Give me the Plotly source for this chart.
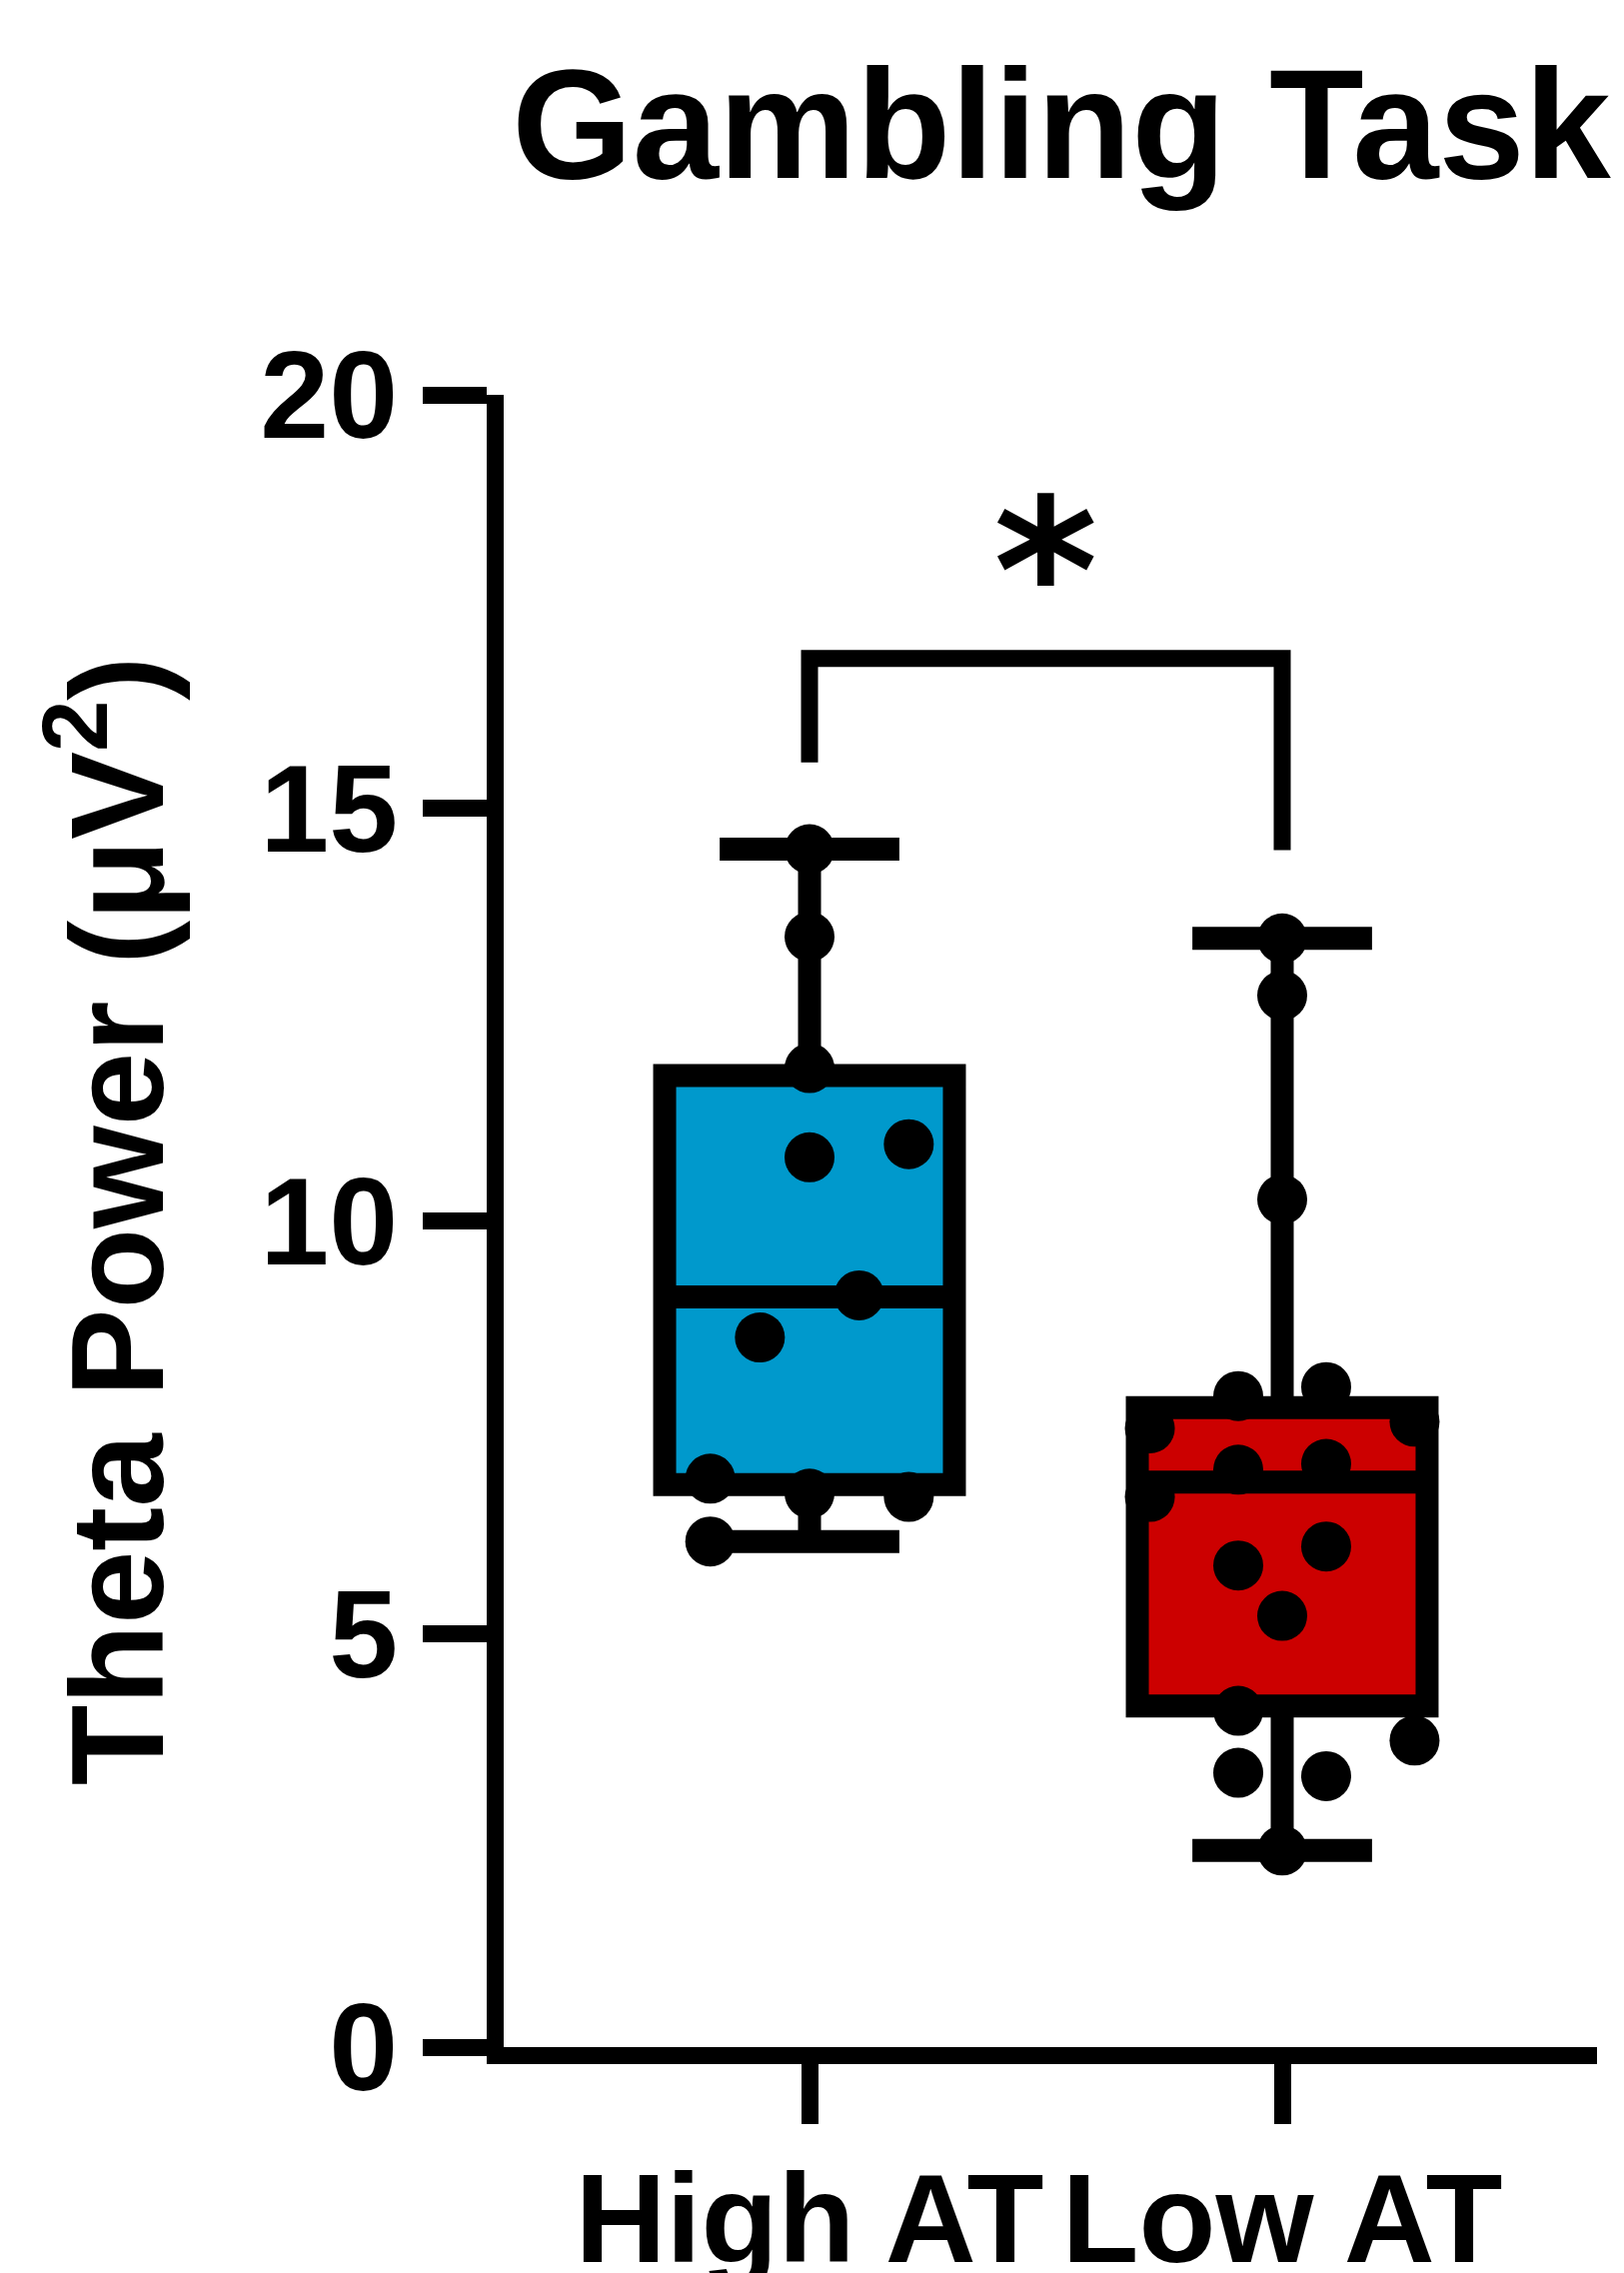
import plotly.graph_objects as go

# ---------------- data ----------------
categories = ["High AT", "Low AT"]

high_values = [14.50, 13.44, 11.85, 10.77, 10.93, 9.10, 8.59, 6.88, 6.70, 6.66, 6.12]
high_jitter = [0.0, 0.0, 0.0, 0.0, 0.21, 0.105, -0.105, -0.21, 0.0, 0.21, -0.21]

low_values = [13.42, 12.73, 10.26, 7.88, 7.99, 7.49, 7.57, 6.99, 7.06, 6.66,
              5.83, 6.06, 5.22, 4.07, 3.71, 3.32, 3.28, 2.38]
low_jitter = [0.0, 0.0, 0.0, -0.093, 0.093, -0.28, 0.28, -0.093, 0.093, -0.28,
              -0.093, 0.093, 0.0, -0.093, 0.28, -0.093, 0.093, 0.0]

# box statistics
box_q1 = [6.81, 4.13]
box_median = [9.08, 6.84]
box_q3 = [11.76, 7.74]
box_lowerfence = [6.12, 2.38]
box_upperfence = [14.50, 13.42]
box_colors = ["#0099CC", "#CC0000"]

# significance bracket
bracket_height = 16.81
bracket_left_end = 15.55
bracket_right_end = 14.49
bracket_label = "*"
asterisk_y = 17.85

y_ticks = [0, 5, 10, 15, 20]

FONT = "Liberation Sans, Arial, Helvetica, sans-serif"

# page body has an 8px margin, so the figure is 8px smaller than the window
W, H = 1617, 2266

fig = go.Figure()

for i, cat in enumerate(categories):
    fig.add_trace(go.Box(
        x=[i], q1=[box_q1[i]], median=[box_median[i]], q3=[box_q3[i]],
        lowerfence=[box_lowerfence[i]], upperfence=[box_upperfence[i]],
        width=0.613, whiskerwidth=0.62,
        fillcolor=box_colors[i],
        line=dict(color="black", width=23),
        boxpoints=False, name=cat, showlegend=False, hoverinfo="skip",
    ))

groups = [(0, high_values, high_jitter), (1, low_values, low_jitter)]
for gi, vals, jit in groups:
    fig.add_trace(go.Scatter(
        x=[gi + j for j in jit], y=vals, mode="markers",
        marker=dict(color="black", size=50, line=dict(width=0)),
        showlegend=False, hoverinfo="skip",
    ))

fig.add_trace(go.Scatter(
    x=[0, 0, 1, 1],
    y=[bracket_left_end, bracket_height, bracket_height, bracket_right_end],
    mode="lines", line=dict(color="black", width=17),
    showlegend=False, hoverinfo="skip",
))

fig.add_annotation(
    x=0.5, y=asterisk_y, xref="x", yref="y", text=bracket_label,
    showarrow=False, yanchor="middle", xanchor="center",
    font=dict(family="DejaVu Sans, Liberation Sans, sans-serif", size=200,
              color="black", weight="bold"),
)

fig.update_layout(
    width=W, height=H,
    margin=dict(l=496, r=27, t=387, b=226, autoexpand=False),
    paper_bgcolor="white", plot_bgcolor="white",
    title=dict(
        text="Gambling Task", xref="container", yref="container",
        x=1054 / W, xanchor="center", y=1 - 116 / H, yanchor="middle",
        font=dict(family=FONT, size=155, color="black", weight="bold"),
    ),
)

fig.update_xaxes(
    range=[-0.647, 1.666], tickvals=[0, 1], ticktext=categories,
    showline=True, linecolor="black", linewidth=17,
    ticks="outside", ticklen=60, tickwidth=17, tickcolor="black",
    ticklabelstandoff=-13,
    tickfont=dict(family=FONT, size=126, color="black", weight="bold"),
    showgrid=False, zeroline=False,
)
fig.update_yaxes(
    range=[0, 20], tickvals=y_ticks,
    showline=True, linecolor="black", linewidth=17,
    ticks="outside", ticklen=64, tickwidth=17, tickcolor="black",
    tickfont=dict(family=FONT, size=124, color="black", weight="bold"),
    showgrid=False, zeroline=False,
    title=dict(text="Theta Power (μV<sup>2</sup>)", standoff=60,
               font=dict(family=FONT, size=132, color="black", weight="bold")),
)

fig.write_html("out.html")
